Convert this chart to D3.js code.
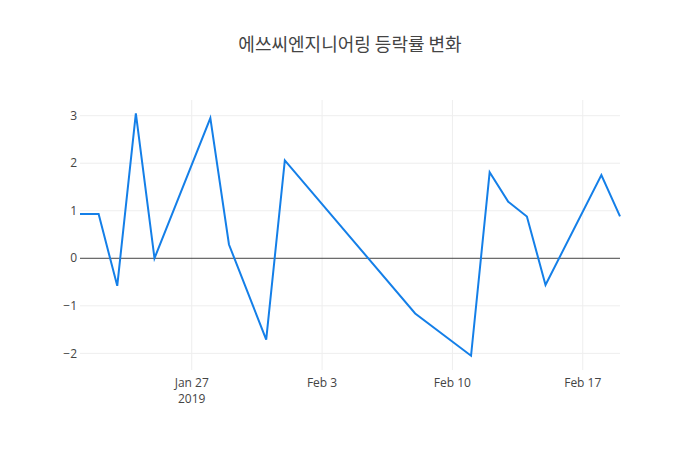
<!DOCTYPE html>
<html><head><meta charset="utf-8">
<script src="https://cdn.jsdelivr.net/npm/d3@7"></script>
<style>body{margin:0;background:#fff}</style>
</head><body>
<svg id="c" width="700" height="450"></svg>
<script>
const title = "에쓰씨엔지니어링 등락률 변화";
const dates = ["2019-01-21","2019-01-22","2019-01-23","2019-01-24","2019-01-25","2019-01-28","2019-01-29","2019-01-31","2019-02-01","2019-02-08","2019-02-11","2019-02-12","2019-02-13","2019-02-14","2019-02-15","2019-02-18","2019-02-19"];
const values = [0.93,0.93,-0.58,3.05,0.0,2.95,0.29,-1.71,2.06,-1.16,-2.05,1.81,1.19,0.88,-0.56,1.75,0.88];
const yTicks = [-2,-1,0,1,2,3];
const xTickDates = ["2019-01-27","2019-02-03","2019-02-10","2019-02-17"];
const xTickLabels = [["Jan 27","2019"],["Feb 3"],["Feb 10"],["Feb 17"]];

const parse = d3.utcParse("%Y-%m-%d");
const data = dates.map((d,i)=>({x:parse(d), y:values[i]}));
const svg = d3.select("#c");
const L=80, R=620, T=100, B=370;
const x = d3.scaleUtc().domain(d3.extent(data,d=>d.x)).range([L,R]);
const y = d3.scaleLinear().domain([-2.35,3.33]).range([B,T]);
const font = "'Open Sans', sans-serif";

// grid
svg.append("g").selectAll("line").data(xTickDates).join("line")
  .attr("x1",d=>x(parse(d))).attr("x2",d=>x(parse(d))).attr("y1",T).attr("y2",B)
  .attr("stroke","#eee").attr("stroke-width",1);
svg.append("g").selectAll("line").data(yTicks.filter(t=>t!==0)).join("line")
  .attr("x1",L).attr("x2",R).attr("y1",d=>y(d)).attr("y2",d=>y(d))
  .attr("stroke","#eee").attr("stroke-width",1);
// zero line
svg.append("line").attr("x1",L).attr("x2",R).attr("y1",y(0)).attr("y2",y(0))
  .attr("stroke","#444").attr("stroke-width",1);

// y labels
svg.append("g").selectAll("text").data(yTicks).join("text")
  .attr("x",L-3).attr("y",d=>y(d)).attr("dy","0.35em").attr("text-anchor","end")
  .attr("font-family",font).attr("font-size",12).attr("fill","#444")
  .text(d=>d<0?"\u2212"+Math.abs(d):d);

// x labels
const xl = svg.append("g").selectAll("text").data(xTickDates).join("text")
  .attr("x",d=>x(parse(d))).attr("y",B+13).attr("text-anchor","middle")
  .attr("font-family",font).attr("font-size",12).attr("fill","#444");
xl.each(function(d,i){
  const t=d3.select(this);
  xTickLabels[i].forEach((s,j)=>t.append("tspan").attr("x",x(parse(d))).attr("dy",j===0?"0.35em":"1.3em").text(s));
});

// line
svg.append("path").datum(data)
  .attr("d",d3.line().x(d=>x(d.x)).y(d=>y(d.y)))
  .attr("fill","none").attr("stroke","#147fe8").attr("stroke-width",2).attr("stroke-linejoin","miter");

// title
svg.append("text").attr("x",350).attr("y",45).attr("dy","0.35em").attr("text-anchor","middle")
  .attr("font-family","'Noto Sans CJK KR', 'Open Sans', sans-serif").attr("font-size",18).attr("fill","#444")
  .text(title);
</script>
</body></html>
